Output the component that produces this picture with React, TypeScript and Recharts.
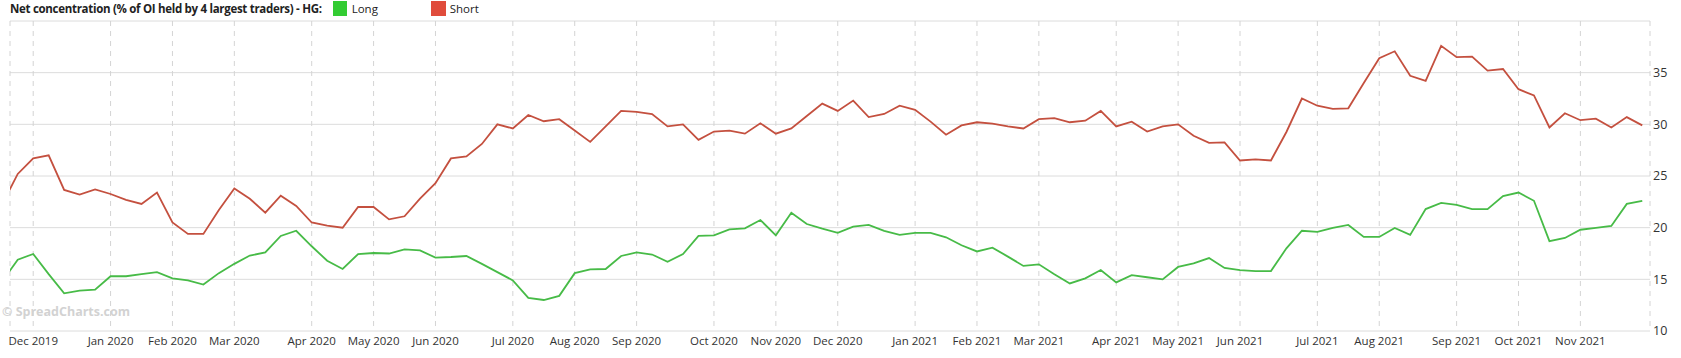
import React from 'react';
import {
  LineChart,
  Line,
  XAxis,
  YAxis,
  CartesianGrid,
} from 'recharts';

// weekly COT readings, first one (Nov 19 2019) sits just outside the plot
const longValues = [
  14.8, 16.9, 17.45, 15.5, 13.65, 13.9, 14.0, 15.3, 15.3, 15.5,
  15.7, 15.1, 14.9, 14.5, 15.6, 16.5, 17.3, 17.6, 19.2, 19.7,
  18.2, 16.8, 16.0, 17.45, 17.55, 17.5, 17.9, 17.8, 17.1, 17.16,
  17.26, 16.5, 15.7, 14.9, 13.2, 13.0, 13.4, 15.6, 15.97, 16.0,
  17.26, 17.6, 17.4, 16.7, 17.45, 19.2, 19.26, 19.84, 19.94, 20.74,
  19.26, 21.45, 20.35, 19.9, 19.5, 20.1, 20.26, 19.7, 19.3, 19.5,
  19.5, 19.07, 18.3, 17.7, 18.06, 17.2, 16.3, 16.45, 15.5, 14.6,
  15.1, 15.9, 14.7, 15.4, 15.2, 15.0, 16.2, 16.55, 17.06, 16.1,
  15.9, 15.8, 15.8, 18.0, 19.7, 19.6, 19.97, 20.26, 19.1, 19.1,
  19.97, 19.3, 21.8, 22.4, 22.2, 21.8, 21.8, 23.06, 23.4, 22.6,
  18.7, 19.0, 19.8, 19.97, 20.16, 22.3, 22.6,
];

const shortValues = [
  22.3, 25.2, 26.7, 27.0, 23.65, 23.2, 23.7, 23.26, 22.7, 22.3,
  23.4, 20.5, 19.4, 19.4, 21.7, 23.8, 22.8, 21.45, 23.1, 22.1,
  20.5, 20.2, 20.0, 22.0, 22.0, 20.8, 21.1, 22.8, 24.3, 26.7,
  26.9, 28.1, 30.0, 29.6, 30.9, 30.3, 30.5, 29.4, 28.3, 29.8,
  31.3, 31.2, 31.0, 29.8, 30.0, 28.5, 29.3, 29.4, 29.1, 30.1,
  29.1, 29.6, 30.8, 32.0, 31.3, 32.3, 30.7, 31.0, 31.8, 31.4,
  30.26, 29.0, 29.9, 30.2, 30.06, 29.8, 29.6, 30.5, 30.6, 30.2,
  30.35, 31.3, 29.8, 30.26, 29.3, 29.8, 30.0, 28.9, 28.2, 28.26,
  26.5, 26.6, 26.5, 29.26, 32.5, 31.8, 31.5, 31.55, 34.0, 36.4,
  37.07, 34.7, 34.2, 37.6, 36.5, 36.55, 35.2, 35.35, 33.4, 32.8,
  29.7, 31.07, 30.4, 30.55, 29.7, 30.7, 29.9,
];

// week index of the first report in each month
const monthTicks = [2, 7, 11, 15, 20, 24, 28, 33, 37, 41, 46, 50, 54, 59, 63, 67, 72, 76, 80, 85, 89, 94, 98, 102];
const monthLabels = [
  'Dec 2019', 'Jan 2020', 'Feb 2020', 'Mar 2020', 'Apr 2020', 'May 2020', 'Jun 2020', 'Jul 2020',
  'Aug 2020', 'Sep 2020', 'Oct 2020', 'Nov 2020', 'Dec 2020', 'Jan 2021', 'Feb 2021', 'Mar 2021',
  'Apr 2021', 'May 2021', 'Jun 2021', 'Jul 2021', 'Aug 2021', 'Sep 2021', 'Oct 2021', 'Nov 2021',
];

const yTicks = [10, 15, 20, 25, 30, 35, 40];

const FONT = '"Open Sans", "DejaVu Sans", sans-serif';
const LONG_SWATCH = '#33cc33';
const SHORT_SWATCH = '#e04c3c';
const LONG_LINE = '#47bb47';
const SHORT_LINE = '#c4503f';

const chartData = longValues.map((v, i) => ({ i, long: v, short: shortValues[i] }));

const App: React.FC = () => {
  return (
    <div style={{ position: 'absolute', left: 0, top: 0, width: 1681, height: 358, background: '#fff' }}>
      <LineChart
        width={1681}
        height={358}
        data={chartData}
        margin={{ top: 21, right: 0, left: 10, bottom: 0 }}
      >
        <CartesianGrid horizontal={true} vertical={false} stroke="#dcdcdc" />
        <CartesianGrid horizontal={false} vertical={true} stroke="#d4d4d4" strokeDasharray="5 5" />
        <XAxis
          dataKey="i"
          type="number"
          domain={[0.5, 106.5]}
          allowDataOverflow
          ticks={monthTicks}
          interval={0}
          tickFormatter={(v: number) => monthLabels[monthTicks.indexOf(v)] || ''}
          axisLine={false}
          tickLine={false}
          tickSize={0}
          tickMargin={6}
          height={27}
          tick={{ fill: '#333', fontSize: 11.5, fontFamily: FONT }}
        />
        <YAxis
          orientation="right"
          type="number"
          domain={[10, 40]}
          ticks={yTicks}
          interval={0}
          tickFormatter={(v: number) => (v === 40 ? '' : String(v))}
          axisLine={false}
          tickLine={false}
          tickSize={0}
          tickMargin={3}
          width={31}
          tick={{ fill: '#333', fontSize: 12.5, fontFamily: FONT, textAnchor: 'start' }}
        />
        <Line
          type="linear"
          dataKey="long"
          stroke={LONG_LINE}
          strokeWidth={1.8}
          dot={false}
          activeDot={false}
          isAnimationActive={false}
        />
        <Line
          type="linear"
          dataKey="short"
          stroke={SHORT_LINE}
          strokeWidth={1.8}
          dot={false}
          activeDot={false}
          isAnimationActive={false}
        />
      </LineChart>
      <div
        style={{
          position: 'absolute',
          left: 10,
          top: 1,
          display: 'flex',
          alignItems: 'center',
          fontFamily: FONT,
          fontSize: 11.5,
          lineHeight: '15px',
          color: '#222',
          whiteSpace: 'nowrap',
        }}
      >
        <span style={{ fontWeight: 700, letterSpacing: '-0.3px' }}>
          Net concentration (% of OI held by 4 largest traders) - HG:
        </span>
        <span style={{ display: 'inline-block', width: 14, height: 15, background: LONG_SWATCH, marginLeft: 11 }} />
        <span style={{ display: 'inline-block', marginLeft: 5, width: 79 }}>Long</span>
        <span style={{ display: 'inline-block', width: 15, height: 15, background: SHORT_SWATCH }} />
        <span style={{ marginLeft: 4 }}>Short</span>
      </div>
      <div
        style={{
          position: 'absolute',
          left: 2,
          top: 304,
          fontFamily: FONT,
          fontWeight: 700,
          fontSize: 12.5,
          lineHeight: '16px',
          color: '#d2d2d2',
          pointerEvents: 'none',
        }}
      >
        © SpreadCharts.com
      </div>
    </div>
  );
};

export default App;
